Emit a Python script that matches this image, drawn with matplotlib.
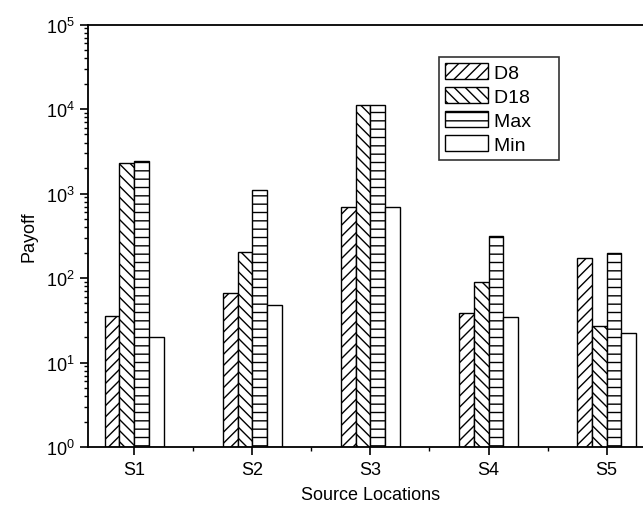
import numpy as np
import matplotlib
matplotlib.use('Agg')
import matplotlib.pyplot as plt
from matplotlib.ticker import LogLocator, NullFormatter

plt.rcParams['font.family'] = ['Liberation Sans', 'DejaVu Sans']
plt.rcParams['mathtext.fontset'] = 'custom'
plt.rcParams['mathtext.rm'] = 'Liberation Sans'
plt.rcParams['mathtext.it'] = 'Liberation Sans:italic'
plt.rcParams['mathtext.bf'] = 'Liberation Sans:bold'
plt.rcParams['hatch.linewidth'] = 1.0

# Datos
ubicaciones = ['S1', 'S2', 'S3', 'S4', 'S5']
d8 = [35, 66, 690, 38, 170]
d18 = [2280, 201, 11100, 88, 26]
maximo = [2430, 1100, 11300, 310, 195]
minimo = [19, 47, 690, 34, 21.5]

series = [('D8', d8, '///'), ('D18', d18, '\\\\\\'), ('Max', maximo, '--'), ('Min', minimo, '')]

fig = plt.figure(figsize=(6.43, 5.06), dpi=100)
ax = fig.add_axes([0.137, 0.1146, 0.880, 0.835])

x = np.arange(1, len(ubicaciones) + 1)
ancho = 0.125
for i, (nombre, valores, trama) in enumerate(series):
    ax.bar(x + (i - 1.5) * ancho, valores, ancho, bottom=1, label=nombre + '    ',
           facecolor='white', edgecolor='black', linewidth=1.0, hatch=trama)

ax.set_yscale('log')
ax.set_ylim(1, 1e5)
ax.set_xlim(0.61, 5.4)
ax.set_xticks(x)
ax.set_xticklabels(ubicaciones)
ax.set_xticks(x[:-1] + 0.5, minor=True)
ax.yaxis.set_major_locator(LogLocator(base=10, numticks=10))
ax.yaxis.set_minor_locator(LogLocator(base=10, subs=np.arange(2, 10), numticks=10))
ax.yaxis.set_minor_formatter(NullFormatter())

ax.tick_params(which='major', direction='out', length=6, width=1.2, labelsize=13, colors='black')
ax.tick_params(which='minor', direction='out', length=3, width=1.0)
ax.tick_params(axis='x', which='major', pad=4)

for s in ['left', 'bottom', 'top']:
    ax.spines[s].set_linewidth(1.3)
ax.spines['right'].set_visible(False)

ax.set_xlabel('Source Locations', fontsize=13, labelpad=6)
ax.set_ylabel('Payoff', fontsize=13, labelpad=6)

leg = ax.legend(loc='upper left', bbox_to_anchor=(0.62, 0.923), fontsize=14,
                frameon=True, fancybox=False, edgecolor='black',
                handlelength=2.2, handleheight=0.9, handletextpad=0.35,
                labelspacing=0.27, borderpad=0.3, borderaxespad=0)
leg.get_frame().set_linewidth(1.2)

fig.savefig('out.png', dpi=100)
